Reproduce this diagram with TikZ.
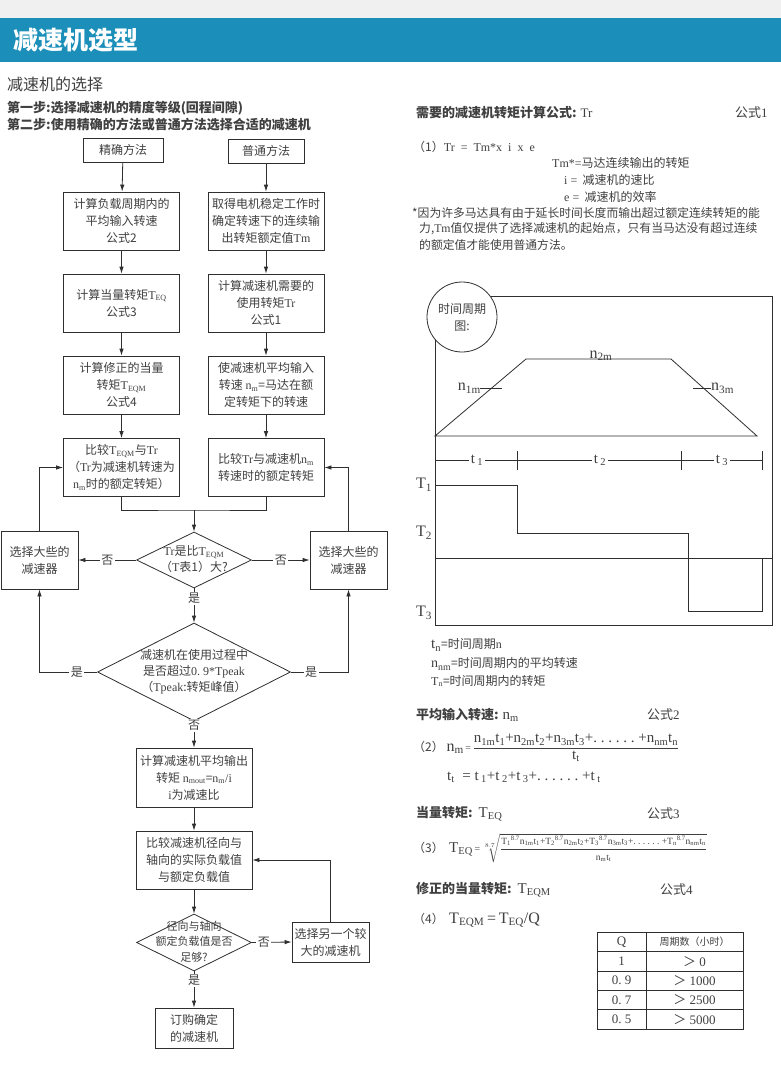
\documentclass[tikz,border=0pt]{standalone}
\usepackage{amsmath}
\usepackage{fontspec}
\setmainfont{Noto Sans CJK SC}
\newfontfamily\latfont{Liberation Serif}
\usepackage{tikz}
\usetikzlibrary{arrows.meta,shapes.geometric}

\definecolor{barblue}{HTML}{1B8FB9}
\definecolor{ink}{HTML}{404040}
\definecolor{linec}{HTML}{2F2F2F}

\newcommand{\fsz}[2]{\fontsize{#1}{#2}\selectfont}
\newcommand{\latn}[1]{{\latfont #1}}
\newcommand{\Tsb}[1]{\latn{T\textsubscript{#1}}}
\newcommand{\nsb}[1]{\latn{n\textsubscript{#1}}}
\newcommand{\zbox}[1]{\smash{\makebox[0pt]{\raisebox{-0.25em}{\begin{tabular}{@{}c@{}}#1\end{tabular}}}}}

\begin{document}
\begin{tikzpicture}[x=1pt,y=-1pt,
  box/.style={draw=linec, line width=0.8pt, minimum width=116, minimum height=58,
    inner sep=1pt, align=center, text=ink, font=\fsz{12}{17}},
  dia/.style={draw=linec, line width=0.8pt, diamond, inner sep=0pt, text=ink, font=\fsz{12}{16}},
  lbl/.style={fill=white, inner sep=1.5pt, text=ink, font=\fsz{12}{14}},
  ln/.style={draw=linec, line width=0.8pt},
  arr/.style={ln, -{Latex[length=7pt,width=4.5pt]}},
  txt/.style={anchor=west, inner sep=0pt, text=ink}]
\useasboundingbox (0,0) rectangle (781,1070);

% Background and title bar
\fill[white] (0,0) rectangle (781,1070);
\fill[gray!12] (0,0) rectangle (781,18);
\fill[barblue] (0,18) rectangle (781,62);
\node[anchor=west, text=white, font=\fsz{25}{25}\bfseries] (ttl) at (10,40) {减速机选型};

% Steps
\node[txt, font=\fsz{16}{16}] (sel) at (7,84) {减速机的选择};
\node[txt, font=\fsz{13}{13}\bfseries] (st1) at (7,108) {第一步:选择减速机的精度等级(回程间隙)};
\node[txt, font=\fsz{13}{13}\bfseries] (st2) at (7,125) {第二步:使用精确的方法或普通方法选择合适的减速机};

% Flow chart, two methods
\node[box, minimum width=80, minimum height=24] (jq) at (123,150) {精确方法};
\node[box, minimum width=76, minimum height=24] (pt) at (266,151) {普通方法};

\node[box] (a1) at (121.5,221) {计算负载周期内的\\平均输入转速\\公式2};
\node[box] (a2) at (121.5,303) {计算当量转矩\Tsb{EQ}\\公式3};
\node[box] (a3) at (121.5,385) {计算修正的当量\\转矩\Tsb{EQM}\\公式4};
\node[box] (a4) at (121.5,467.5) {比较\Tsb{EQM}与\latn{Tr}\\（\latn{Tr}为减速机转速为\\\nsb{m}时的额定转矩）};

\node[box] (b1) at (266,221) {取得电机稳定工作时\\确定转速下的连续输\\出转矩额定值\latn{Tm}};
\node[box] (b2) at (266,303) {计算减速机需要的\\使用转矩\latn{Tr}\\公式1};
\node[box] (b3) at (266,385) {使减速机平均输入\\转速 \nsb{m}=马达在额\\定转矩下的转速};
\node[box] (b4) at (266,467.5) {比较\latn{Tr}与减速机\nsb{m}\\转速时的额定转矩};

\draw[arr] (jq) -- (a1);
\draw[arr] (a1) -- (a2);
\draw[arr] (a2) -- (a3);
\draw[arr] (a3) -- (a4);
\draw[arr] (pt) -- (b1);
\draw[arr] (b1) -- (b2);
\draw[arr] (b2) -- (b3);
\draw[arr] (b3) -- (b4);

% Checks
\coordinate (mrg) at (194,510);
\node[dia, minimum width=115, minimum height=56] (d1) at (194,560)
  {\zbox{\latn{Tr}是比\Tsb{EQM}\\（\latn{T}表1）大?}};
\node[dia, minimum width=193, minimum height=98] (d2) at (194,672)
  {\zbox{减速机在使用过程中\\是否超过\latn{0.\ 9*Tpeak}\\（\latn{Tpeak}:转矩峰值）}};
\node[box, minimum width=77, minimum height=58] (sl) at (39.5,560) {选择大些的\\减速器};
\node[box, minimum width=77, minimum height=58] (sr) at (348.5,560) {选择大些的\\减速器};

\draw[ln] (a4.south) |- (mrg) -| (b4.south);
\draw[arr] (mrg) -- (d1.north);
\draw[arr] (d1.west) -- node[lbl] (n1) {否} (sl.east);
\draw[arr] (d1.east) -- node[lbl] (n2) {否} (sr.west);
\draw[arr] (d1.south) -- node[lbl, pos=0.3] (y1) {是} (d2.north);
\draw[arr] (d2.west) -- node[lbl, pos=0.35] (y2) {是} (d2.west -| sl.south) -- (sl.south);
\draw[arr] (d2.east) -- node[lbl, pos=0.35] (y3) {是} (d2.east -| sr.south) -- (sr.south);
\draw[arr] (sl.north) |- (a4.west);
\draw[arr] (sr.north) |- (b4.east);

% Output side
\node[box, minimum height=59] (c1) at (194,777.5) {计算减速机平均输出\\转矩 \nsb{mout}=\nsb{m}\latn{/i}\\\latn{i}为减速比};
\node[box] (c2) at (194,860) {比较减速机径向与\\轴向的实际负载值\\与额定负载值};
\node[dia, minimum width=115, minimum height=57, font=\fsz{11}{15.5}] (d3) at (194,942.5)
  {\zbox{径向与轴向\\额定负载值是否\\足够?}};
\node[box, minimum width=77, minimum height=40] (c4) at (330.5,942) {选择另一个较\\大的减速机};
\node[box, minimum width=78, minimum height=40] (c5) at (194,1028) {订购确定\\的减速机};

\draw[arr] (d2.south) -- node[lbl, pos=0.15] (n3) {否} (c1.north);
\draw[arr] (c1) -- (c2);
\draw[arr] (c2) -- (d3);
\draw[arr] (d3.south) -- node[lbl, pos=0.25] (y4) {是} (c5.north);
\draw[arr] (d3.east) -- node[lbl, pos=0.3] (n4) {否} (c4.west);
\draw[arr] (c4.north) |- (c2.east);

% Formula 1
\node[txt, font=\fsz{13}{13}\bfseries] (h1) at (416,113) {需要的减速机转矩计算公式: \latn{\mdseries Tr}};
\node[txt, font=\fsz{13}{13}] (k1) at (735,113) {公式\latn{1}};
\node[txt, font=\fsz{12}{12}] (f1) at (413,147) {（1）\latn{Tr\ \ =\ \ Tm*x\ \ i\ \ x\ \ e}};
\node[txt, font=\fsz{12}{12}] (v1) at (552,163) {\latn{Tm*=}马达连续输出的转矩};
\node[txt, font=\fsz{12}{12}] (v2) at (564,180) {\latn{i =}\ \ 减速机的速比};
\node[txt, font=\fsz{12}{12}] (v3) at (564,197) {\latn{e =}\ \ 减速机的效率};
\node[txt, font=\fsz{11.8}{11.8}] (r1) at (412,213) {*因为许多马达具有由于延长时间长度而输出超过额定连续转矩的能};
\node[txt, font=\fsz{11.8}{11.8}] (r2) at (419,229) {力,\latn{Tm}值仅提供了选择减速机的起始点，只有当马达没有超过连续};
\node[txt, font=\fsz{11.8}{11.8}] (r3) at (419,245) {的额定值才能使用普通方法。};

% Time chart
\draw[ln] (435,296) rectangle (772,625);
\node[draw=linec, line width=0.8pt, circle, fill=white, minimum size=70, inner sep=0pt,
  align=center, text=ink, font=\fsz{12}{17}] (cyc) at (462,317) {时间周期\\图:};
\draw[ln] (435,436) -- (526,359) -- (671,359) -- (757,436) -- cycle;
\node[anchor=south, inner sep=0pt, text=ink, font=\fsz{16}{16}] (n2m) at (601,361) {\nsb{2m}};
\draw[ln] (480,388) -- (502,388);
\node[anchor=east, inner sep=0pt, text=ink, font=\fsz{16}{16}] (n1m) at (481,388) {\nsb{1m}};
\draw[ln] (693,388) -- (711,388);
\node[anchor=west, inner sep=0pt, text=ink, font=\fsz{16}{16}] (n3m) at (711,388) {\nsb{3m}};

\draw[ln] (435,460) -- (762,460);
\foreach \x in {517,681,762}
  \draw[ln] (\x,451) -- (\x,470);
\node[lbl, font=\fsz{15}{15}] (t1) at (477,460) {\latn{t\,\textsubscript{1}}};
\node[lbl, font=\fsz{15}{15}] (t2) at (600,460) {\latn{t\,\textsubscript{2}}};
\node[lbl, font=\fsz{15}{15}] (t3) at (722,460) {\latn{t\,\textsubscript{3}}};

\draw[ln] (435,485) -- (517,485) -- (517,533) -- (688,533) -- (688,611) -- (762,611) -- (762,558);
\draw[ln] (435,558) -- (772,558);
\node[text=ink, inner sep=0pt, font=\fsz{16}{16}] (T1) at (424,485) {\Tsb{1}};
\node[text=ink, inner sep=0pt, font=\fsz{16}{16}] (T2) at (424,533) {\Tsb{2}};
\node[text=ink, inner sep=0pt, font=\fsz{16}{16}] (T3) at (424,613) {\Tsb{3}};

\node[txt, font=\fsz{12}{12}] (lg1) at (431,645) {\latn{\fsz{15}{15}t\textsubscript{n}}=时间周期\latn{n}};
\node[txt, font=\fsz{12}{12}] (lg2) at (431,664) {\latn{\fsz{14}{14}n\textsubscript{nm}}=时间周期内的平均转速};
\node[txt, font=\fsz{12}{12}] (lg3) at (431,681) {\Tsb{n}=时间周期内的转矩};

% Formula 2
\node[txt, font=\fsz{13}{13}\bfseries] (h2) at (416,715) {平均输入转速: \latn{\mdseries\fsz{15}{15}n\textsubscript{m}}};
\node[txt, font=\fsz{13}{13}] (k2) at (647,715) {公式\latn{2}};
\node[txt, font=\fsz{12}{12}] (f2) at (413,748) {（2）\ \latn{\fsz{16}{16}n\textsubscript{m}\fsz{10}{10}\,=\,}$\dfrac{\text{\latfont\fsz{15}{15}n\textsubscript{1m}t\textsubscript{1}+n\textsubscript{2m}t\textsubscript{2}+n\textsubscript{3m}t\textsubscript{3}+.\ .\ .\ .\ .\ .\ +n\textsubscript{nm}t\textsubscript{n}}}{\text{\latfont\fsz{15}{15}t\textsubscript{t}}}$};
\node[txt, font=\fsz{15}{15}] (f2b) at (447,777) {\latn{t\textsubscript{t}\ \ =\ t\,\textsubscript{1}+t\,\textsubscript{2}+t\,\textsubscript{3}+.\ .\ .\ .\ .\ .\ +t\,\textsubscript{t}}};

% Formula 3
\node[txt, font=\fsz{13}{13}\bfseries] (h3) at (416,814) {当量转矩:\ \ \latn{\mdseries\fsz{15}{15}T\textsubscript{EQ}}};
\node[txt, font=\fsz{13}{13}] (k3) at (647,814) {公式\latn{3}};
\node[txt, font=\fsz{12}{12}] (f3) at (413,848) {（3）\ \ \latn{\fsz{15}{15}T\textsubscript{EQ}\fsz{10}{10}\,=\,}$\sqrt[8.7]{\dfrac{\text{\latfont\fsz{9.5}{9.5}T\textsubscript{1}\textsuperscript{8.7}n\textsubscript{1m}t\textsubscript{1}+T\textsubscript{2}\textsuperscript{8.7}n\textsubscript{2m}t\textsubscript{2}+T\textsubscript{3}\textsuperscript{8.7}n\textsubscript{3m}t\textsubscript{3}+.\ .\ .\ .\ .\ .\ +T\textsubscript{n}\textsuperscript{8.7}n\textsubscript{nm}t\textsubscript{n}}}{\text{\latfont\fsz{9.5}{9.5}n\textsubscript{m}t\textsubscript{t}}}}$};

% Formula 4
\node[txt, font=\fsz{13}{13}\bfseries] (h4) at (416,890) {修正的当量转矩:\ \ \latn{\mdseries\fsz{15}{15}T\textsubscript{EQM}}};
\node[txt, font=\fsz{13}{13}] (k4) at (660,890) {公式\latn{4}};
\node[txt, font=\fsz{12}{12}] (f4) at (413,920) {（4）\ \ \latn{\fsz{16}{16}T\textsubscript{EQM}\,=\,T\textsubscript{EQ}/Q}};

% Q table
\draw[ln] (597,932) rectangle (743,1029);
\foreach \y in {951.5,971,990.5,1009.5}
  \draw[ln] (597,\y) -- (743,\y);
\draw[ln] (646,932) -- (646,1029);
\foreach \q/\h [count=\i] in {Q/{\fsz{10}{10}周期数（小时）},1/＞\latn{\ 0},0.\ 9/＞\latn{\ 1000},0.\ 7/＞\latn{\ 2500},0.\ 5/＞\latn{\ 5000}}{
  \node[text=ink, font=\fsz{13}{13}] (q\i) at (621.5,{941.75+(\i-1)*19.4}) {\latn{\q}};
  \node[text=ink, font=\fsz{13}{13}] (p\i) at (694.5,{941.75+(\i-1)*19.4}) {\h};
}
\end{tikzpicture}
\end{document}
